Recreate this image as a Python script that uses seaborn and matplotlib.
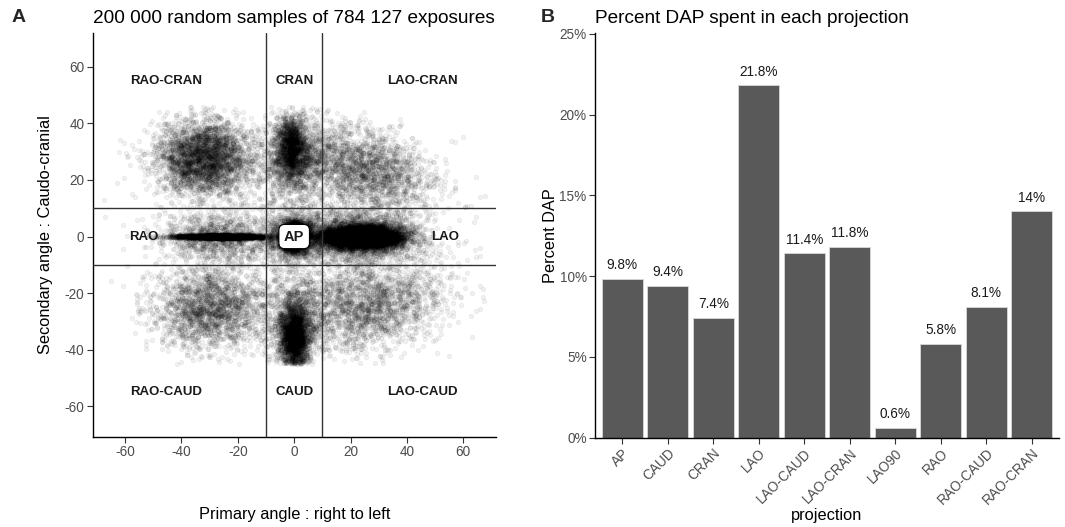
import numpy as np
import pandas as pd
import matplotlib
matplotlib.use("Agg")
import matplotlib.pyplot as plt
import seaborn as sns
from matplotlib.ticker import FuncFormatter

# ---------------- data ----------------
# Panel B: percent DAP per projection
projections = ["AP", "CAUD", "CRAN", "LAO", "LAO-CAUD", "LAO-CRAN",
               "LAO90", "RAO", "RAO-CAUD", "RAO-CRAN"]
percent_dap = [9.8, 9.4, 7.4, 21.8, 11.4, 11.8, 0.6, 5.8, 8.1, 14.0]
percent_labels = ["9.8%", "9.4%", "7.4%", "21.8%", "11.4%", "11.8%",
                  "0.6%", "5.8%", "8.1%", "14%"]

# Panel A: point-cloud clusters
cluster_names = ["AP core", "AP halo", "LAO core", "LAO halo", "RAO line", "RAO halo",
                 "RAO-CRAN", "CRAN core", "CRAN halo", "LAO-CRAN",
                 "RAO-CAUD", "CAUD core", "CAUD halo", "LAO-CAUD", "background"]
cluster_cx = [0, 0, 24, 22, -26, -27, -32, -1, 0, 25, -30, 0, 0, 26, 0]
cluster_cy = [0, 0, 0, 0, 0, 0, 28, 32, 27, 24, -25, -36, -28, -24, 0]
cluster_sx = [2.0, 5, 7.0, 12, 8, 10, 8.5, 2.6, 6, 12, 9.5, 2.6, 6, 13, 28]
cluster_sy = [2.0, 4, 2.0, 5, 0.35, 4, 6.5, 5.5, 8, 7.5, 7.5, 5.5, 8, 8, 22]
cluster_rho = [0, 0, 0, 0, 0, 0, 0, 0, 0, -0.35, 0, 0, 0, 0.25, 0]
cluster_n = [4000, 1500, 7000, 1800, 2500, 1000, 3200, 1200, 1300,
             2000, 2000, 2000, 1000, 2000, 800]

# quadrant labels
region_labels = ["RAO-CRAN", "CRAN", "LAO-CRAN", "RAO", "LAO",
                 "RAO-CAUD", "CAUD", "LAO-CAUD"]
region_x = [-45.5, 0, 45.5, -53.5, 53.5, -45.5, 0, 45.5]
region_y = [55, 55, 55, 0, 0, -55, -55, -55]

# ---------------- build point cloud ----------------
rng = np.random.default_rng(11)
xs, ys = [], []
for cx, cy, sx, sy, r, n in zip(cluster_cx, cluster_cy, cluster_sx,
                                cluster_sy, cluster_rho, cluster_n):
    cov = [[sx * sx, r * sx * sy], [r * sx * sy, sy * sy]]
    p = rng.multivariate_normal([cx, cy], cov, size=n)
    xs.append(p[:, 0]); ys.append(p[:, 1])
xs = np.concatenate(xs); ys = np.concatenate(ys)
keep = (np.abs(xs) < 68) & (ys > -45) & (ys < 46)
cloud = pd.DataFrame({"primary": xs[keep], "secondary": ys[keep]})

proj_df = pd.DataFrame({"projection": projections, "pct": percent_dap})

# ---------------- style ----------------
sns.set_theme(style="ticks")
plt.rcParams["font.family"] = ["Liberation Sans", "DejaVu Sans"]
plt.rcParams["axes.edgecolor"] = "black"
plt.rcParams["axes.linewidth"] = 1.0
plt.rcParams["axes.unicode_minus"] = False

TICK_C = "#4d4d4d"

fig = plt.figure(figsize=(10.65, 5.27), dpi=100)
axA = fig.add_axes([0.0870, 0.1708, 0.3787, 0.7666])
axB = fig.add_axes([0.5587, 0.1695, 0.4357, 0.7680])

# ---------------- panel A ----------------
sns.scatterplot(data=cloud, x="primary", y="secondary", ax=axA,
                color="black", edgecolor="black", alpha=0.06, s=11,
                linewidth=0.5, legend=False, rasterized=True)
for v in (-10, 10):
    axA.axvline(v, color="#333333", lw=1.0, zorder=3)
    axA.axhline(v, color="#333333", lw=1.0, zorder=3)
for t, x, y in zip(region_labels, region_x, region_y):
    axA.text(x, y, t, ha="center", va="center", fontsize=9.5,
             fontweight="bold", color="#1a1a1a", zorder=4)
axA.text(0, 0, "AP", ha="center", va="center", fontsize=10.5,
         fontweight="bold", color="#1a1a1a", zorder=5,
         bbox=dict(boxstyle="round,pad=0.35,rounding_size=0.4",
                   fc="white", ec="black", lw=0.8))
axA.set_xlim(-71.5, 71.6)
axA.set_ylim(-70.8, 71.9)
axA.set_xticks([-60, -40, -20, 0, 20, 40, 60])
axA.set_yticks([-60, -40, -20, 0, 20, 40, 60])
axA.set_xlabel("Primary angle : right to left", fontsize=11.8, color="black")
axA.set_ylabel("Secondary angle : Caudo-cranial", fontsize=11.8, color="black")
axA.xaxis.set_label_coords(0.5, -0.173)
axA.yaxis.set_label_coords(-0.098, 0.5)
axA.set_title("200 000 random samples of 784 127 exposures", loc="left",
              fontsize=13.7, pad=7, color="black")

# ---------------- panel B ----------------
sns.barplot(data=proj_df, x="projection", y="pct", ax=axB, color="#595959",
            saturation=1, width=0.9, edgecolor="#d9d9d9", linewidth=0.6)
for i, (v, lab) in enumerate(zip(percent_dap, percent_labels)):
    axB.annotate(lab, (i, v), xytext=(0, 5), textcoords="offset points",
                 ha="center", va="bottom", fontsize=9.8, color="#1a1a1a")
axB.set_xlim(-0.6, 9.6)
axB.set_ylim(0, 25.05)
axB.set_yticks([0, 5, 10, 15, 20, 25])
axB.yaxis.set_major_formatter(FuncFormatter(lambda v, p: f"{v:.0f}%"))
axB.set_xlabel("projection", fontsize=11.8, color="black")
axB.set_ylabel("Percent DAP", fontsize=11.8, color="black")
axB.xaxis.set_label_coords(0.5, -0.173)
axB.yaxis.set_label_coords(-0.080, 0.5)
axB.set_title("Percent DAP spent in each projection", loc="left",
              fontsize=13.7, pad=7, color="black")
for lbl in axB.get_xticklabels():
    lbl.set_rotation(45)
    lbl.set_ha("right")
    lbl.set_rotation_mode("anchor")

for ax in (axA, axB):
    sns.despine(ax=ax)
    ax.tick_params(axis="both", length=4, width=0.8, color="#333333",
                   labelsize=9.8, labelcolor=TICK_C, pad=2)

fig.text(0.017, 0.966, "A", fontsize=14, fontweight="bold", ha="center", va="center")
fig.text(0.5145, 0.966, "B", fontsize=14, fontweight="bold", ha="center", va="center")

fig.savefig("out.png", dpi=100)
